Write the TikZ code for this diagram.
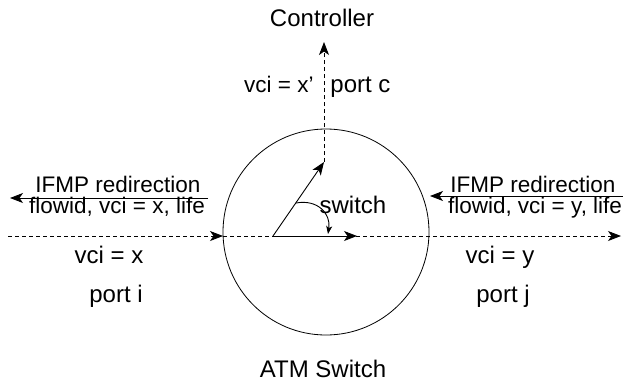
\documentclass[tikz,border=0pt]{standalone}
\usepackage{fontspec}
\setmainfont{Liberation Sans}
\usetikzlibrary{arrows.meta}
\begin{document}
\begin{tikzpicture}[x=1pt,y=-1pt,
  lbl/.style={anchor=base, inner sep=0pt, font=\fontsize{24}{28}\selectfont},
  sml/.style={anchor=base, inner sep=0pt, font=\fontsize{22.5}{27}\selectfont},
  tip/.style={-{Stealth[length=13pt,width=10pt,inset=3.5pt]}},
  smalltip/.style={-{Stealth[length=8pt,width=6pt,inset=2pt]}},
  dsh/.style={dash pattern=on 4pt off 3pt},
  line width=0.9pt]
\useasboundingbox (0,0) rectangle (623,383);
\fill[white] (0,0) rectangle (623,383);
% switch body
\node[draw, circle, minimum size=206pt, inner sep=0pt, line width=0.8pt] (sw) at (326,232) {};
% coordinates
\coordinate (inL) at (8,236);
\coordinate (portIn) at (223,236);
\coordinate (outR) at (621,236);
\coordinate (piv) at (273,236);
\coordinate (hEnd) at (357,236);
\coordinate (sEnd) at (324,162);
\coordinate (ctl) at (324,42);
\coordinate (arcS) at (296,203);
\coordinate (arcE) at (328,234);
\coordinate (rlS) at (208,198);
\coordinate (rlE) at (10,198);
\coordinate (rrS) at (623,196);
\coordinate (rrE) at (430,196);
% texts
\node[lbl] (ctrl) at (322,26) {Controller};
\node[sml, anchor=base east] (vcic) at (314,92) {vci = x'};
\node[lbl, anchor=base west] (portc) at (330,92) {port c};
\node[lbl] (swl) at (353,213) {switch};
\node[sml] (ifl) at (118,192) {IFMP redirection};
\node[sml] (fll) at (117,213) {flowid, vci = x, life};
\node[sml] (ifr) at (533,192) {IFMP redirection};
\node[sml] (flr) at (535,213) {flowid, vci = y, life};
\node[lbl] (vcix) at (109,263) {vci = x};
\node[lbl] (vciy) at (500,263) {vci = y};
\node[lbl] (porti) at (116,302) {port i};
\node[lbl] (portj) at (503,302) {port j};
\node[lbl] (atm) at (323,377) {ATM Switch};
% connectors
\draw[dsh, tip] (inL) -- (portIn);
\draw[dsh, tip] (portIn) -- (outR);
\draw[dsh, tip] (sEnd) -- (ctl);
\draw[tip] (piv) -- (hEnd);
\draw[tip] (piv) -- (sEnd);
\draw[smalltip] (arcS) .. controls (318,199) and (331,214) .. (arcE);
\draw[tip] (rlS) -- (rlE);
\draw[tip] (rrS) -- (rrE);
\end{tikzpicture}
\end{document}
